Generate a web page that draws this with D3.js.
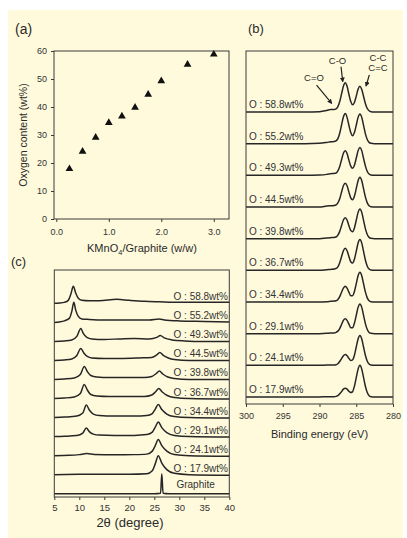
<!DOCTYPE html>
<html>
<head>
<meta charset="utf-8">
<script src="https://d3js.org/d3.v7.min.js"></script>
<style>
  body { margin: 0; background: #fff; }
  svg { display: block; font-family: "Liberation Sans", Arial, sans-serif; }
  .box { fill: none; stroke: #3a3a3a; stroke-width: 1; }
  .tick line { stroke: #3a3a3a; }
  .tick text { fill: #333; }
  .curve { fill: none; stroke: #262626; stroke-width: 1.5; }
  .lbl { fill: #333; font-size: 10px; }
  .ttl { fill: #2a2a2a; }
</style>
</head>
<body>
<div id="fig"></div>
<script>

// ---- (a) oxygen content vs KMnO4/graphite ratio
var ratio  = [0.25, 0.5, 0.75, 1, 1.25, 1.5, 1.75, 2, 2.5, 3];
var oxygen = [17.9, 24.1, 29.1, 34.4, 36.7, 39.8, 44.5, 49.3, 55.2, 58.8];
var ticksA_x = [0, 1, 2, 3];
var ticksA_y = [0, 10, 20, 30, 40, 50, 60];

// sample labels, top to bottom
var sampleLabels = ["O : 58.8wt%", "O : 55.2wt%", "O : 49.3wt%", "O : 44.5wt%", "O : 39.8wt%",
                    "O : 36.7wt%", "O : 34.4wt%", "O : 29.1wt%", "O : 24.1wt%", "O : 17.9wt%"];

// ---- (b) C1s XPS, intensity (1 = one stack step)
var xpsEnergy = [300, 292, 290, 289, 288.5, 288, 287.75, 287.5, 287.25, 287, 286.75, 286.5, 286.25, 286,
                 285.75, 285.5, 285.25, 285, 284.75, 284.5, 284.25, 284, 283.75, 283.5, 283.25, 283, 282.5, 282, 280];
var xps588 = [0,0,0.01,0.05,0.08,0.08,0.10,0.17,0.33,0.57,0.81,0.92,0.81,0.56,0.33,0.23,0.30,0.50,0.72,0.81,0.71,0.49,0.26,0.11,0.04,0.01,0,0,0];
var xps552 = [0,0,0.01,0.04,0.06,0.07,0.09,0.16,0.33,0.59,0.84,0.95,0.83,0.58,0.35,0.25,0.35,0.58,0.83,0.94,0.83,0.57,0.31,0.13,0.04,0.01,0,0,0];
var xps493 = [0,0,0.01,0.03,0.05,0.06,0.07,0.14,0.28,0.49,0.70,0.78,0.69,0.48,0.29,0.22,0.32,0.54,0.78,0.88,0.78,0.53,0.29,0.12,0.04,0.01,0,0,0];
var xps445 = [0,0,0,0.03,0.04,0.05,0.07,0.13,0.26,0.47,0.67,0.75,0.67,0.47,0.29,0.23,0.34,0.58,0.83,0.94,0.83,0.57,0.31,0.13,0.04,0.01,0,0,0];
var xps398 = [0,0,0,0.02,0.03,0.04,0.05,0.11,0.23,0.41,0.59,0.66,0.59,0.41,0.26,0.22,0.34,0.58,0.83,0.94,0.83,0.57,0.31,0.13,0.04,0.01,0,0,0];
var xps367 = [0,0,0,0.02,0.03,0.04,0.06,0.11,0.24,0.43,0.62,0.70,0.62,0.44,0.27,0.23,0.35,0.60,0.86,0.97,0.86,0.59,0.32,0.13,0.04,0.01,0,0,0];
var xps344 = [0,0,0,0.01,0.02,0.03,0.04,0.08,0.17,0.31,0.44,0.50,0.44,0.31,0.20,0.20,0.33,0.58,0.83,0.94,0.83,0.57,0.31,0.13,0.04,0.01,0,0,0];
var xps291 = [0,0,0,0.01,0.02,0.02,0.04,0.08,0.16,0.29,0.42,0.47,0.42,0.30,0.19,0.19,0.33,0.58,0.83,0.94,0.83,0.57,0.31,0.13,0.04,0.01,0,0,0];
var xps241 = [0,0,0,0.01,0.01,0.01,0.02,0.05,0.12,0.21,0.30,0.34,0.30,0.22,0.15,0.17,0.32,0.58,0.83,0.94,0.83,0.57,0.31,0.13,0.04,0.01,0,0,0];
var xps179 = [0,0,0,0.01,0.01,0.01,0.02,0.04,0.10,0.17,0.25,0.28,0.25,0.18,0.14,0.17,0.34,0.61,0.88,1.00,0.88,0.61,0.33,0.14,0.04,0.01,0,0,0];
var xpsSeries = [xps588, xps552, xps493, xps445, xps398, xps367, xps344, xps291, xps241, xps179];
var ticksB_x = [300, 295, 290, 285, 280];

// ---- (c) XRD patterns, [2theta, a.u.]
var xrd588 = [[5,0],[6,0.3],[7,1],[7.8,3],[8.3,9],[8.8,17],[9.3,10],[9.8,5],[10.5,3],[12,2.5],[14,2.5],[17.5,4],[20,3],[23,2],[26,1.5],[30,1],[35,1],[40,1]];
var xrd552 = [[5,0],[6,0.5],[7,1.5],[8,4],[8.5,11],[8.9,20],[9.3,12],[9.8,6],[10.5,3.5],[12,3],[15,2.5],[20,2.5],[24,2.5],[26,3.5],[27,2.5],[30,1.5],[35,1],[40,0.5]];
var xrd493 = [[5,0],[7,0.5],[8.5,1.5],[9.5,5],[10.3,13],[10.8,8],[11.5,4],[12.5,2.5],[15,2],[18,2.5],[21,3],[24,2.5],[25.5,4],[26.2,6],[27,3.5],[28.5,1.5],[31,0.5],[35,0],[40,0]];
var xrd445 = [[5,0],[7,0.5],[8.5,1.5],[9.5,5],[10.3,12],[10.9,7.5],[11.6,4],[12.5,2.5],[15,2],[18,2],[22,2.5],[24.5,3],[25.5,5.5],[26.1,8],[26.8,5],[27.8,2.5],[29,1],[32,0],[40,0]];
var xrd398 = [[5,0],[7,0.5],[9,1.5],[10.2,5],[11,13],[11.6,8],[12.3,4],[13.5,2.5],[16,2],[20,2],[23,2],[24.5,3],[25.4,6],[26,8.5],[26.7,5.5],[27.7,2.5],[29,1],[32,0],[40,0]];
var xrd367 = [[5,0],[7,0.5],[9,1.5],[10.2,5],[11,14],[11.6,8.5],[12.3,4],[13.5,2.5],[16,2],[20,2],[23,2],[24.5,3.5],[25.3,7],[25.9,10],[26.6,6.5],[27.6,3],[29,1],[32,0],[40,-0.5]];
var xrd344 = [[5,0],[7,0.5],[9.5,1.5],[10.7,4.5],[11.4,12.5],[12,7.5],[12.8,3.5],[14,2],[17,1.5],[21,1.5],[23.5,2],[24.6,4],[25.2,8.5],[25.8,13],[26.5,8],[27.5,3.5],[29,1],[32,0],[40,-0.5]];
var xrd291 = [[5,0],[7,0.3],[9.5,1],[10.7,3.5],[11.4,8.5],[12,5],[12.8,2.5],[14,1.5],[17,1.2],[21,1.2],[23.5,2],[24.6,4.5],[25.2,9.5],[25.8,14.5],[26.5,9],[27.5,4],[29,1.2],[32,0],[40,-0.5]];
var xrd241 = [[5,0],[8,0.3],[10,1],[11.5,2],[13,1.2],[17,0.8],[21,1],[23.5,1.5],[24.6,4.5],[25.2,10],[25.8,16],[26.5,10],[27.5,4.5],[29,1.2],[32,0],[40,-0.5]];
var xrd179 = [[5,0],[10,0.3],[15,0.5],[20,0.5],[23.5,1],[24.6,4],[25.2,11],[25.8,19],[26.5,11.5],[27.5,5],[29,1.3],[32,0],[40,-0.5]];
var xrdGraphite = [[5,0],[25,0],[26.25,0.5],[26.5,20],[26.75,0.5],[28,0],[40,0]];
var xrdSeries = [xrd588, xrd552, xrd493, xrd445, xrd398, xrd367, xrd344, xrd291, xrd241, xrd179, xrdGraphite];
var ticksC_x = [5, 10, 15, 20, 25, 30, 35, 40];

// -------------------------------------------------------------
var svg = d3.select("#fig").append("svg")
	.attr("width", 407)
	.attr("height", 538);

svg.append("rect")
	.attr("x", 8).attr("y", 10).attr("width", 395).attr("height", 528)
	.attr("fill", "#fffadc");

function styleAxis(g, size) {
	g.select(".domain").remove();
	g.selectAll("text").attr("font-size", size).attr("font-family", null);
}

function panelLetter(txt, x, y, size) {
	svg.append("text").attr("class", "ttl")
		.attr("x", x).attr("y", y)
		.attr("font-size", size)
		.text(txt);
}

// ===== (a)
var xa = d3.scaleLinear().domain([-0.044, 3.29]).range([54, 229]);
var ya = d3.scaleLinear().domain([0, 60]).range([219, 51]);

svg.append("g")
	.attr("transform", "translate(0,219)")
	.call(d3.axisBottom(xa).tickValues(ticksA_x).tickSize(3).tickPadding(6.5))
	.call(styleAxis, 9);
svg.append("g")
	.attr("transform", "translate(54,0)")
	.call(d3.axisLeft(ya).tickValues(ticksA_y).tickSize(3).tickPadding(4))
	.call(styleAxis, 9);
svg.append("rect").attr("class", "box")
	.attr("x", 54).attr("y", 51).attr("width", 175).attr("height", 168);

svg.selectAll("path.tri")
	.data(ratio)
	.enter().append("path")
	.attr("class", "tri")
	.attr("d", d3.symbol().type(d3.symbolTriangle).size(26))
	.attr("transform", function(d, i) { return "translate(" + xa(d) + "," + ya(oxygen[i]) + ")"; })
	.attr("fill", "#111");

svg.append("text").attr("class", "ttl")
	.attr("transform", "translate(27,135) rotate(-90)")
	.attr("text-anchor", "middle")
	.attr("font-size", 10.5)
	.text("Oxygen content (wt%)");

var xlabA = svg.append("text").attr("class", "ttl")
	.attr("x", 142).attr("y", 252)
	.attr("text-anchor", "middle")
	.attr("font-size", 11);
xlabA.append("tspan").text("KMnO");
xlabA.append("tspan").attr("font-size", 7.5).attr("dy", 2.5).text("4");
xlabA.append("tspan").attr("dy", -2.5).text("/Graphite (w/w)");

panelLetter("(a)", 15, 34, 14);

// ===== (b)
var xb = d3.scaleLinear().domain([300, 280]).range([246, 393]);
var yb = d3.scaleLinear().domain([-0.221, 10.926]).range([404, 51]);
var nB = xpsSeries.length;

svg.append("g")
	.attr("transform", "translate(0,404)")
	.call(d3.axisBottom(xb).tickValues(ticksB_x).tickSize(3).tickPadding(6))
	.call(styleAxis, 9);

var lineB = d3.line()
	.x(function(d) { return xb(d[0]); })
	.y(function(d) { return yb(d[1]); })
	.curve(d3.curveMonotoneX);

xpsSeries.forEach(function(vals, i) {
	var off = nB - 1 - i;
	var pts = xpsEnergy.map(function(e, j) { return [e, vals[j] + off]; });
	svg.append("path").attr("class", "curve").attr("d", lineB(pts));
	svg.append("text").attr("class", "lbl")
		.attr("x", xb(299.6)).attr("y", yb(off + 0.13))
		.text(sampleLabels[i]);
});

svg.append("rect").attr("class", "box")
	.attr("x", 246).attr("y", 51).attr("width", 147).attr("height", 353);

// peak annotations
var defs = svg.append("defs");
defs.append("marker")
	.attr("id", "arr")
	.attr("viewBox", "0 0 6 6")
	.attr("refX", 5).attr("refY", 3)
	.attr("markerWidth", 5).attr("markerHeight", 5)
	.attr("markerUnits", "userSpaceOnUse")
	.attr("orient", "auto")
	.append("path").attr("d", "M0,0L6,3L0,6Z").attr("fill", "#222");

var notes = [
	{ t: ["C=O"], x: 290.75, y: [9.98], from: [290.4, 9.85], to: [288.34, 9.27] },
	{ t: ["C-O"], x: 287.55, y: [10.53], from: [287.07, 10.43], to: [286.84, 9.96] },
	{ t: ["C-C", "C=C"], x: 282.04, y: [10.62, 10.28], from: [283.22, 10.17], to: [283.67, 9.82] }
];
notes.forEach(function(n) {
	n.t.forEach(function(s, k) {
		svg.append("text").attr("class", "ttl")
			.attr("x", xb(n.x)).attr("y", yb(n.y[k]))
			.attr("text-anchor", "middle")
			.attr("font-size", 9.5)
			.text(s);
	});
	svg.append("line")
		.attr("x1", xb(n.from[0])).attr("y1", yb(n.from[1]))
		.attr("x2", xb(n.to[0])).attr("y2", yb(n.to[1]))
		.attr("stroke", "#222").attr("stroke-width", 1.2)
		.attr("marker-end", "url(#arr)");
});

svg.append("text").attr("class", "ttl")
	.attr("x", 319.5).attr("y", 438)
	.attr("text-anchor", "middle")
	.attr("font-size", 11)
	.text("Binding energy (eV)");

panelLetter("(b)", 248, 33, 13);

// ===== (c)
var xc = d3.scaleLinear().domain([5, 40]).range([54.3, 229.3]);
var yc = d3.scaleLinear().domain([-3.3, 223.3]).range([497, 270]);
var stepC = 19;
var nC = xrdSeries.length;

svg.append("g")
	.attr("transform", "translate(0,497)")
	.call(d3.axisBottom(xc).tickValues(ticksC_x).tickSize(3).tickPadding(4.3))
	.call(styleAxis, 9.5);

var lineC = d3.line()
	.x(function(d) { return xc(d[0]); })
	.y(function(d) { return yc(d[1]); })
	.curve(d3.curveMonotoneX);

xrdSeries.forEach(function(pts, i) {
	var off = (nC - 1 - i) * stepC;
	svg.append("path").attr("class", "curve")
		.attr("d", lineC(pts.map(function(p) { return [p[0], p[1] + off]; })));
	if (i < sampleLabels.length) {
		svg.append("text").attr("class", "lbl")
			.attr("x", xc(39.74)).attr("y", yc(off + 3))
			.attr("text-anchor", "end")
			.text(sampleLabels[i]);
	} else {
		svg.append("text").attr("class", "lbl")
			.attr("x", xc(37.1)).attr("y", yc(off + 5.4))
			.attr("text-anchor", "end")
			.text("Graphite");
	}
});

svg.append("rect").attr("class", "box")
	.attr("x", 54.3).attr("y", 270).attr("width", 175).attr("height", 227);

svg.append("text").attr("class", "ttl")
	.attr("x", 130).attr("y", 527)
	.attr("text-anchor", "middle")
	.attr("font-size", 13)
	.text("2θ (degree)");

panelLetter("(c)", 11, 266, 13);

</script>
</body>
</html>
